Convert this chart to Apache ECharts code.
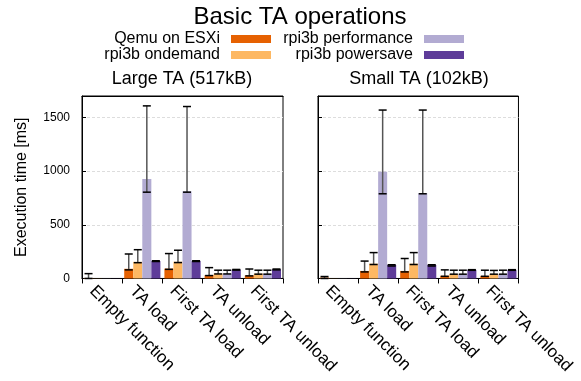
<!DOCTYPE html>
<html>
<head>
<meta charset="utf-8">
<script src="https://cdn.jsdelivr.net/npm/echarts@6/dist/echarts.min.js"></script>
<style>
  html, body { margin: 0; padding: 0; background: #fff; }
  #chart { width: 581px; height: 381px; }
</style>
</head>
<body>
<div id="chart"></div>
<script>
const categories = ['Empty function', 'TA load', 'First TA load', 'TA unload', 'First TA unload'];
const seriesNames = ['Qemu on ESXi', 'rpi3b ondemand', 'rpi3b performance', 'rpi3b powersave'];
const colors = ['#e66101', '#fdb863', '#b2abd2', '#5e3c99'];
const yTicks = [0, 500, 1000, 1500];

// Each entry: [mean, low, high] in ms, one per operation
const largeQemu        = [[4, 0, 45], [90, 80, 228], [92, 85, 232], [31, 27, 101], [28, 24, 88]];
const largeOndemand    = [[1, 1, 1], [155, 147, 268], [156, 148, 263], [45, 42, 77], [45, 40, 77]];
const largePerformance = [[1, 1, 1], [926, 804, 1608], [813, 804, 1602], [45, 42, 77], [45, 40, 77]];
const largePowersave   = [[1, 1, 1], [162, 158, 165], [162, 158, 165], [82, 78, 84], [85, 80, 88]];

const smallQemu        = [[8, 0, 18], [70, 61, 162], [70, 61, 186], [25, 20, 80], [24, 20, 77]];
const smallOndemand    = [[1, 1, 1], [138, 130, 241], [138, 130, 241], [42, 40, 77], [42, 40, 75]];
const smallPerformance = [[1, 1, 1], [994, 789, 1569], [795, 789, 1569], [42, 40, 77], [42, 40, 77]];
const smallPowersave   = [[1, 1, 1], [126, 116, 128], [126, 116, 128], [80, 76, 82], [80, 76, 82]];

const FONT = 'Liberation Sans, Arial, Helvetica, sans-serif';
const CAT_GAP = 0.10;

function panelSeries(idx, sets) {
  const out = sets.map((d, s) => ({
    type: 'bar',
    name: seriesNames[s],
    xAxisIndex: idx,
    yAxisIndex: idx,
    data: d.map(v => v[0]),
    barGap: '0%',
    barCategoryGap: (CAT_GAP * 100) + '%',
    itemStyle: { color: colors[s] },
    emphasis: { disabled: true }
  }));
  // dashed horizontal guides at the labelled ticks
  out[0].markLine = {
    silent: true,
    symbol: 'none',
    label: { show: false },
    lineStyle: { color: '#dddddd', type: [3, 2], width: 1 },
    data: yTicks.filter(v => v > 0).map(v => ({ yAxis: v })),
    z: 0
  };
  const errData = [];
  sets.forEach((d, s) => d.forEach((v, c) => {
    if (v[2] - v[1] > 0.5) errData.push([c, v[1], v[2], s]);
  }));
  out.push({
    type: 'custom',
    xAxisIndex: idx,
    yAxisIndex: idx,
    silent: true,
    z: 5,
    encode: { x: 0, y: [1, 2] },
    data: errData,
    renderItem: function (params, api) {
      const c = api.value(0);
      const lo = api.coord([c, api.value(1)]);
      const hi = api.coord([c, api.value(2)]);
      const band = api.size([1, 0])[0];
      const barW = band * (1 - CAT_GAP) / seriesNames.length;
      const x = lo[0] + (api.value(3) - 1.5) * barW;
      const cap = 4;
      return {
        type: 'group',
        children: [
          { type: 'line', shape: { x1: x, y1: lo[1], x2: x, y2: hi[1] },
            style: { stroke: '#555', lineWidth: 1.5 } },
          { type: 'line', shape: { x1: x - cap, y1: hi[1], x2: x + cap, y2: hi[1] },
            style: { stroke: '#000', lineWidth: 1.5 } },
          { type: 'line', shape: { x1: x - cap, y1: lo[1], x2: x + cap, y2: lo[1] },
            style: { stroke: '#000', lineWidth: 1.5 } }
        ]
      };
    }
  });
  return out;
}

function xAxis(idx) {
  return {
    type: 'category',
    gridIndex: idx,
    data: categories,
    axisLine: { lineStyle: { color: '#000', width: 1 } },
    axisTick: { show: true, length: 5, lineStyle: { color: '#000' } },
    axisLabel: {
      rotate: -45,
      margin: 0,
      align: 'left',
      verticalAlign: 'top',
      lineHeight: 28,
      interval: 0,
      color: '#000',
      fontSize: 17,
      fontFamily: FONT
    }
  };
}

// plain line closing the top of each panel frame
function topFrame(idx) {
  return {
    type: 'category',
    gridIndex: idx,
    position: 'top',
    data: categories,
    axisLine: { show: true, lineStyle: { color: '#000', width: 1 } },
    axisTick: { show: false },
    axisLabel: { show: false },
    splitLine: { show: false }
  };
}

function yAxis(idx, showLabels) {
  const ax = {
    type: 'value',
    gridIndex: idx,
    min: 0,
    max: 1700,
    interval: 500,
    axisLine: { show: true, lineStyle: { color: '#000', width: 1 } },
    axisTick: { show: true, inside: true, length: 4, lineStyle: { color: '#000' }, customValues: yTicks },
    axisLabel: {
      show: showLabels,
      color: '#000',
      fontSize: 12,
      fontFamily: FONT,
      margin: 12,
      customValues: yTicks,
      formatter: v => String(v)
    },
    splitLine: { show: false }
  };
  if (showLabels) {
    ax.name = 'Execution time [ms]';
    ax.nameLocation = 'middle';
    ax.nameGap = 52;
    ax.nameTextStyle = { color: '#000', fontSize: 16, fontFamily: FONT };
  }
  return ax;
}

const chart = echarts.init(document.getElementById('chart'), null, { renderer: 'canvas' });

const legendBase = {
  orient: 'vertical',
  align: 'right',
  icon: 'rect',
  itemWidth: 40,
  itemHeight: 8,
  itemGap: 0,
  padding: 0,
  selectedMode: false,
  top: 31,
  textStyle: { color: '#000', fontSize: 16, fontFamily: FONT, lineHeight: 15.5, padding: [0, 6, 0, 0] }
};

chart.setOption({
  animation: false,
  color: colors,
  title: [
    { text: 'Basic TA operations', left: 300, top: 5, textAlign: 'center', padding: 0,
      textStyle: { color: '#000', fontSize: 24, fontWeight: 'normal', fontFamily: FONT } },
    { text: 'Large TA (517kB)', left: 182, top: 70, textAlign: 'center', padding: 0,
      textStyle: { color: '#000', fontSize: 18, fontWeight: 'normal', fontFamily: FONT } },
    { text: 'Small TA (102kB)', left: 419, top: 70, textAlign: 'center', padding: 0,
      textStyle: { color: '#000', fontSize: 18, fontWeight: 'normal', fontFamily: FONT } }
  ],
  legend: [
    Object.assign({}, legendBase, { right: 310, data: [seriesNames[0], seriesNames[1]] }),
    Object.assign({}, legendBase, { right: 117, data: [seriesNames[2], seriesNames[3]] })
  ],
  grid: [
    { left: 82, right: 298, top: 96, bottom: 100, show: true, borderColor: '#000', borderWidth: 1, containLabel: false },
    { left: 318, right: 61, top: 96, bottom: 100, show: true, borderColor: '#000', borderWidth: 1, containLabel: false }
  ],
  xAxis: [xAxis(0), xAxis(1), topFrame(0), topFrame(1)],
  yAxis: [yAxis(0, true), yAxis(1, false)],
  series: [].concat(
    panelSeries(0, [largeQemu, largeOndemand, largePerformance, largePowersave]),
    panelSeries(1, [smallQemu, smallOndemand, smallPerformance, smallPowersave])
  )
});
</script>
</body>
</html>
